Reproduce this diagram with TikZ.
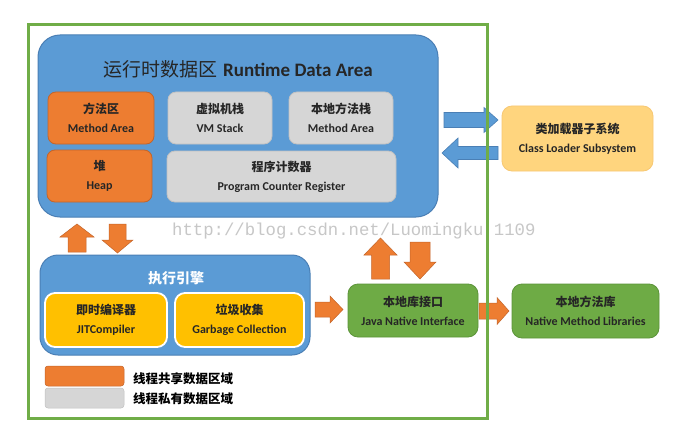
\documentclass[tikz,border=0pt]{standalone}
\usepackage{fontspec}
\setmainfont{Carlito}
\newfontfamily\cjk{Noto Sans CJK SC}
\newfontfamily\wmfont{Liberation Mono}
\definecolor{bblue}{HTML}{5B9BD5}
\definecolor{bblueD}{HTML}{4A7FB5}
\definecolor{borange}{HTML}{ED7D31}
\definecolor{borangeD}{HTML}{C4652A}
\definecolor{bgray}{HTML}{D6D6D6}
\definecolor{bgrayD}{HTML}{C2C2C2}
\definecolor{byellow}{HTML}{FFC000}
\definecolor{bgreen}{HTML}{6EAB45}
\definecolor{bgreenD}{HTML}{5C9439}
\definecolor{blight}{HTML}{FFD57E}
\definecolor{blightD}{HTML}{F7C873}
\definecolor{frameG}{HTML}{70AD47}
\definecolor{txt}{HTML}{262626}
\newcommand\barrow[8]{% style, cx, cy, angle, length, bodyhalf, headhalf, headlen
  \begin{scope}[shift={(#2,#3)},rotate=#4]
    \path[#1] (-#5/2,-#6) -- (#5/2-#8,-#6) -- (#5/2-#8,-#7) -- (#5/2,0)
      -- (#5/2-#8,#7) -- (#5/2-#8,#6) -- (-#5/2,#6) -- cycle;
  \end{scope}}
\begin{document}
\begin{tikzpicture}[x=1pt,y=-1pt,
  box/.style={rounded corners=8pt, minimum width=#1, inner sep=0pt, align=center,
    text=txt, font=\fontsize{12}{19}\selectfont\bfseries},
  orangebox/.style={box=#1, fill=borange, draw=borangeD, line width=0.8pt},
  graybox/.style={box=#1, fill=bgray, draw=bgrayD, line width=0.8pt},
  yellowbox/.style={box=#1, fill=byellow, draw=white, line width=1.8pt, rounded corners=10pt},
  greenbox/.style={box=#1, fill=bgreen, draw=bgreenD, line width=0.8pt, rounded corners=10pt},
  bluearrow/.style={fill=bblue, draw=bblueD, line width=0.6pt},
  orangearrow/.style={fill=borange, draw=borangeD, line width=0.5pt},
  legtext/.style={anchor=west, inner sep=0pt, text=black, font=\fontsize{12.5}{14}\selectfont\cjk\bfseries}
]
\useasboundingbox (0,0) rectangle (686,428);
\fill[white] (0,0) rectangle (686,428);

% runtime data area
\node (rda) [rounded corners=22pt, fill=bblue, draw=bblueD, line width=1pt,
  minimum width=400, minimum height=182, inner sep=0pt] at (238,126) {};
\node (rdatitle) [text=txt, inner sep=0pt] at (238,69)
  {\fontsize{19}{22}\selectfont{\cjk 运行时数据区}\hspace{6pt}\bfseries Runtime Data Area};

\node (ma) [orangebox=106, minimum height=52] at (101,118) {{\cjk 方法区}\\Method Area};
\node (vms) [graybox=104, minimum height=52] at (220,118) {{\cjk 虚拟机栈}\\VM Stack};
\node (nms) [graybox=104, minimum height=52] at (341,118) {{\cjk 本地方法栈}\\Method Area};
\node (heap) [orangebox=105, minimum height=52] at (99.5,176) {{\cjk 堆}\\Heap};
\node (pc) [graybox=229, minimum height=51] at (281.5,176.5) {{\cjk 程序计数器}\\Program Counter Register};

% class loader
\node (cl) [box=151, minimum height=65, fill=blight, draw=blightD, line width=0.8pt, rounded corners=10pt]
  at (577.5,138.5) {{\cjk 类加载器子系统}\\Class Loader Subsystem};

% execution engine
\node (ee) [rounded corners=18pt, fill=bblue, draw=bblueD, line width=1pt,
  minimum width=270, minimum height=100, inner sep=0pt] at (175,305) {};
\node (eetitle) [text=white, inner sep=0pt, font=\fontsize{14}{16}\selectfont\cjk\bfseries] at (176,278) {执行引擎};
\node (jit) [yellowbox=122, minimum height=54] at (106,320) {{\cjk 即时编译器}\\JITCompiler};
\node (gc) [yellowbox=129, minimum height=54] at (239.5,320) {{\cjk 垃圾收集}\\Garbage Collection};

% JNI and native libraries
\node (jni) [greenbox=130, minimum height=53] at (413,310.5) {{\cjk 本地库接口}\\Java Native Interface};
\node (nml) [greenbox=147, minimum height=54] at (585.5,311) {{\cjk 本地方法库}\\Native Method Libraries};

% legend
\node (leg1) [fill=borange, draw=borangeD, line width=0.5pt, rounded corners=3pt,
  minimum width=79, minimum height=20, inner sep=0pt] at (84.5,376) {};
\node (leg2) [fill=bgray, draw=bgrayD, line width=0.5pt, rounded corners=3pt,
  minimum width=79, minimum height=20, inner sep=0pt] at (84.5,398) {};
\node (leg1t) [legtext] at (133,379) {线程共享数据区域};
\node (leg2t) [legtext] at (133,399) {线程私有数据区域};

% watermark
\node (wm) [anchor=west, inner sep=0pt, text=black!22, font=\fontsize{17.3}{20}\selectfont\wmfont]
  at (172,231) {http://blog.csdn.net/Luomingku 1109};

% block arrows
\barrow{bluearrow}{471}{120}{0}{54}{7.5}{12.5}{14}
\barrow{bluearrow}{470}{153}{180}{56}{6.5}{15}{16}
\barrow{orangearrow}{77}{238}{90}{28}{9}{17}{13}
\barrow{orangearrow}{117.5}{238.5}{-90}{29}{8.5}{15.5}{13}
\barrow{orangearrow}{329}{309.5}{0}{28}{7.5}{13.5}{13}
\barrow{orangearrow}{380.5}{258.5}{90}{41}{9}{16.5}{17}
\barrow{orangearrow}{420}{260.5}{-90}{37}{10}{16}{17}
\barrow{orangearrow}{494}{311}{0}{30}{8}{13.5}{12}

% frame
\node (frame) [draw=frameG, line width=3pt, minimum width=459, minimum height=393, inner sep=0pt] at (257.5,221.5) {};
\end{tikzpicture}
\end{document}
